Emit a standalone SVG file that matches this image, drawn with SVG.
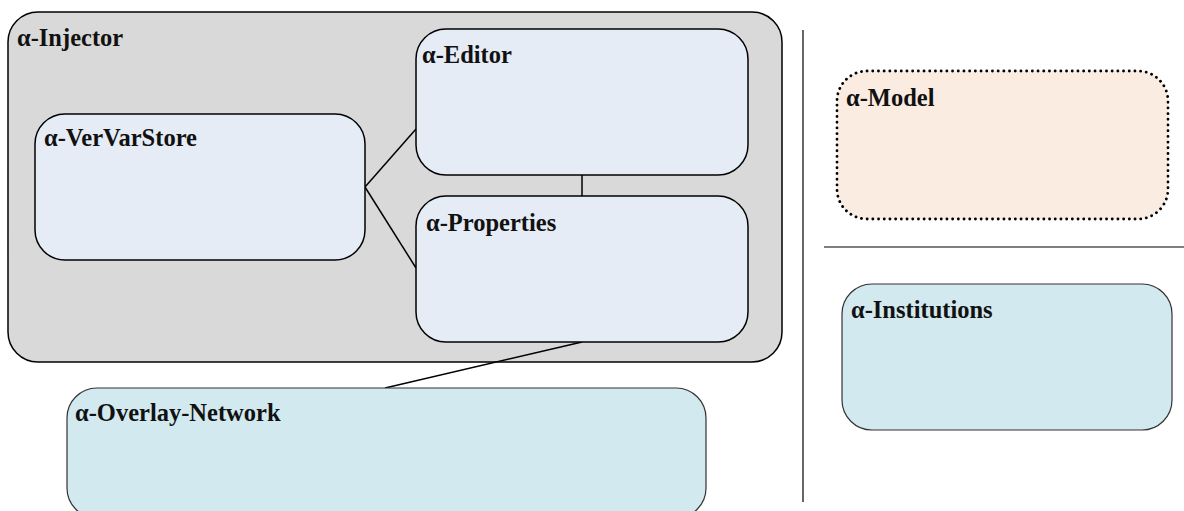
<svg xmlns="http://www.w3.org/2000/svg" width="1184" height="511" viewBox="0 0 1184 511">
  <style>
    .box { stroke: #000; stroke-width: 1.5; }
    .inner { fill: #e6ecf6; }
    .teal { fill: #d1e9ef; stroke: #333; stroke-width: 1.2; }
    .label { font-family: "Liberation Serif", "Times New Roman", serif; font-weight: bold; font-size: 24.5px; fill: #111; }
    .link { stroke: #000; stroke-width: 1.5; fill: none; }
    .rule { stroke: #000; stroke-width: 1.2; }
  </style>

  <!-- separators -->
  <line class="rule" x1="803" y1="30" x2="803" y2="502"/>
  <line class="rule" x1="824" y1="247" x2="1184" y2="247" stroke-width="1"/>

  <g id="injector">
    <rect class="box" x="8" y="12" width="774" height="350" rx="30" fill="#d9d9d9"/>
    <text class="label" x="17" y="46">α-Injector</text>
  </g>

  <g id="connectors">
    <line class="link" x1="365" y1="187" x2="416" y2="129"/>
    <line class="link" x1="365" y1="187" x2="416" y2="268"/>
    <line class="link" x1="582" y1="175" x2="582" y2="196" stroke="#555" stroke-width="1.2"/>
    <line class="link" x1="582" y1="342" x2="385" y2="388"/>
  </g>

  <g id="vervarstore">
    <rect class="box inner" x="35" y="114" width="330" height="146" rx="30"/>
    <text class="label" x="44" y="146">α-VerVarStore</text>
  </g>

  <g id="editor">
    <rect class="box inner" x="416" y="29" width="332" height="146" rx="30"/>
    <text class="label" x="422" y="63">α-Editor</text>
  </g>

  <g id="properties">
    <rect class="box inner" x="416" y="196" width="332" height="146" rx="30"/>
    <text class="label" x="426" y="231">α-Properties</text>
  </g>

  <g id="overlay-network">
    <rect class="teal" x="67" y="388" width="639" height="130" rx="30"/>
    <text class="label" x="75" y="421">α-Overlay-Network</text>
  </g>

  <g id="model">
    <rect x="837" y="71" width="331" height="148" rx="30" fill="#fbece1" stroke="#000" stroke-width="2.8" stroke-dasharray="0.1 5.6" stroke-linecap="round"/>
    <text class="label" x="846" y="106">α-Model</text>
  </g>

  <g id="institutions">
    <rect class="teal" x="842" y="284" width="330" height="146" rx="30"/>
    <text class="label" x="851" y="318">α-Institutions</text>
  </g>
</svg>
